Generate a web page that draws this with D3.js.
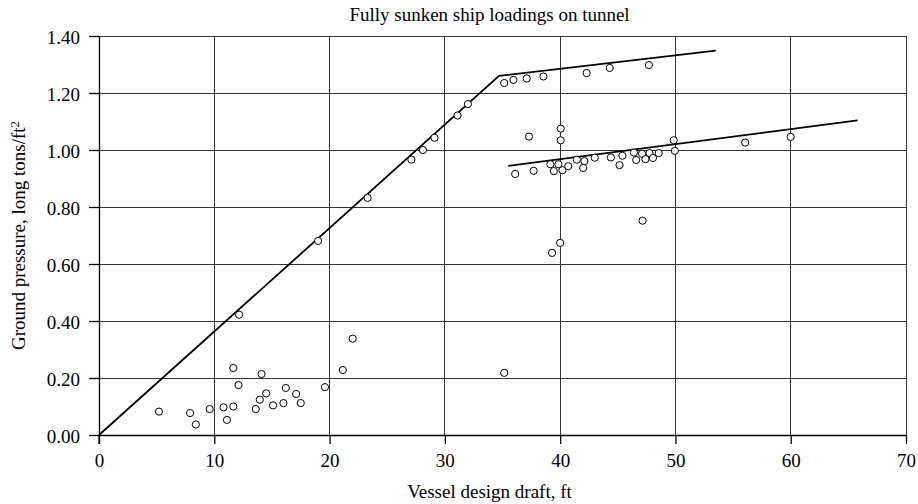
<!DOCTYPE html>
<html><head><meta charset="utf-8">
<script src="https://cdn.jsdelivr.net/npm/d3@7"></script>
<style>body{margin:0;background:#fff}svg{display:block}text{font-family:"Liberation Serif","Times New Roman",serif;fill:#000}</style>
</head><body><svg id="c" width="918" height="504"></svg>
<script>
const title = "Fully sunken ship loadings on tunnel";
const xLabel = "Vessel design draft, ft";
const yLabel = "Ground pressure, long tons/ft";
const xTicks = [0,10,20,30,40,50,60,70];
const yTicks = [0,0.2,0.4,0.6,0.8,1.0,1.2,1.4];
// observed points [draft ft, pressure long tons/ft2]
const pointsX = [5.2,7.9,8.4,9.6,10.8,11.1,11.65,12.1,11.65,12.15,13.6,13.95,14.1,14.5,15.1,16.0,16.2,17.1,17.5,19.6,21.15,22.0,35.15,
 19.0,23.3,27.1,28.1,29.1,31.1,32.0,
 35.15,35.95,37.1,38.55,42.3,44.3,47.7,
 37.3,40.05,40.05,49.85,49.95,39.3,40.0,47.15,
 36.1,37.7,39.15,39.45,39.85,40.2,40.7,41.45,42.1,42.0,43.0,44.4,45.15,45.4,46.4,46.6,47.1,47.4,47.75,48.05,48.55,56.05,60.0];
const pointsY = [0.082,0.077,0.037,0.091,0.097,0.053,0.100,0.175,0.235,0.422,0.091,0.124,0.214,0.146,0.104,0.112,0.165,0.144,0.112,0.168,0.228,0.338,0.218,
 0.681,0.832,0.966,1.000,1.043,1.121,1.161,
 1.235,1.246,1.251,1.258,1.270,1.288,1.298,
 1.047,1.075,1.034,1.034,0.997,0.639,0.674,0.752,
 0.916,0.927,0.950,0.926,0.950,0.929,0.943,0.966,0.961,0.937,0.973,0.974,0.947,0.980,0.991,0.965,0.987,0.968,0.989,0.972,0.989,1.026,1.046];
// fitted lines
const line1X = [0,34.7,53.5];
const line1Y = [0,1.26,1.349];
const line2X = [35.5,65.8];
const line2Y = [0.944,1.104];

const svg = d3.select("#c");
const m = {l:99, r:12, t:36, b:69};
const W = 918, H = 504;
const x = d3.scaleLinear().domain([0,70]).range([m.l, W-m.r]);
const y = d3.scaleLinear().domain([0,1.4]).range([H-m.b, m.t]);

// grid
const g = svg.append("g");
g.selectAll(".gx").data(xTicks.slice(1)).enter().append("line")
 .attr("x1",d=>x(d)).attr("x2",d=>x(d)).attr("y1",y(0)).attr("y2",y(1.4))
 .attr("stroke","#333").attr("stroke-width",1).attr("shape-rendering","crispEdges");
g.selectAll(".gy").data(yTicks.slice(1)).enter().append("line")
 .attr("y1",d=>y(d)).attr("y2",d=>y(d)).attr("x1",x(0)).attr("x2",x(70))
 .attr("stroke","#333").attr("stroke-width",1).attr("shape-rendering","crispEdges");

// axes
const xAxis = d3.axisBottom(x).tickValues(xTicks).tickFormat(d3.format("d")).tickSize(9).tickSizeOuter(0);
const yAxis = d3.axisLeft(y).tickValues(yTicks).tickFormat(d3.format(".2f")).tickSize(10).tickSizeOuter(0);
const ax = svg.append("g").attr("transform",`translate(0,${y(0)})`).call(xAxis);
const ay = svg.append("g").attr("transform",`translate(${x(0)},0)`).call(yAxis);
[ax,ay].forEach(a=>{
  a.select(".domain").attr("stroke","#000").attr("stroke-width",1.3);
  a.selectAll(".tick line").attr("stroke","#000").attr("stroke-width",1.3);
  a.selectAll("text").style("font-family",'"Liberation Serif",serif').style("font-size","19px").attr("fill","#000");
});
ax.selectAll("text").attr("dy","0").attr("y",32);
ay.selectAll("text").attr("x",-19).attr("dy","0.4em");
// extend y axis below origin to meet x tick
ay.append("line").attr("x1",0).attr("x2",0).attr("y1",y(0)).attr("y2",y(0)+9).attr("stroke","#000").attr("stroke-width",1.3);

// fitted lines
const ln = d3.line().x(d=>x(d[0])).y(d=>y(d[1]));
svg.append("path").datum(line1X.map((v,i)=>[v,line1Y[i]])).attr("d",ln)
 .attr("fill","none").attr("stroke","#000").attr("stroke-width",1.8);
svg.append("path").datum(line2X.map((v,i)=>[v,line2Y[i]])).attr("d",ln)
 .attr("fill","none").attr("stroke","#000").attr("stroke-width",1.8);

// points
svg.append("g").selectAll("circle").data(pointsX.map((v,i)=>[v,pointsY[i]])).enter().append("circle")
 .attr("cx",d=>x(d[0])).attr("cy",d=>y(d[1])).attr("r",3.6)
 .attr("fill","#fff").attr("stroke","#000").attr("stroke-width",1);

// titles
svg.append("text").attr("x",489.5).attr("y",21).attr("text-anchor","middle").style("font-size","19px").text(title);
svg.append("text").attr("x",489.5).attr("y",498).attr("text-anchor","middle").style("font-size","19px").text(xLabel);
const yl = svg.append("text").attr("transform",`translate(25,${(y(0)+y(1.4))/2}) rotate(-90)`).attr("text-anchor","middle").style("font-size","19px");
yl.append("tspan").text(yLabel);
yl.append("tspan").attr("dy","-0.45em").style("font-size","13px").text("2");
</script></body></html>
